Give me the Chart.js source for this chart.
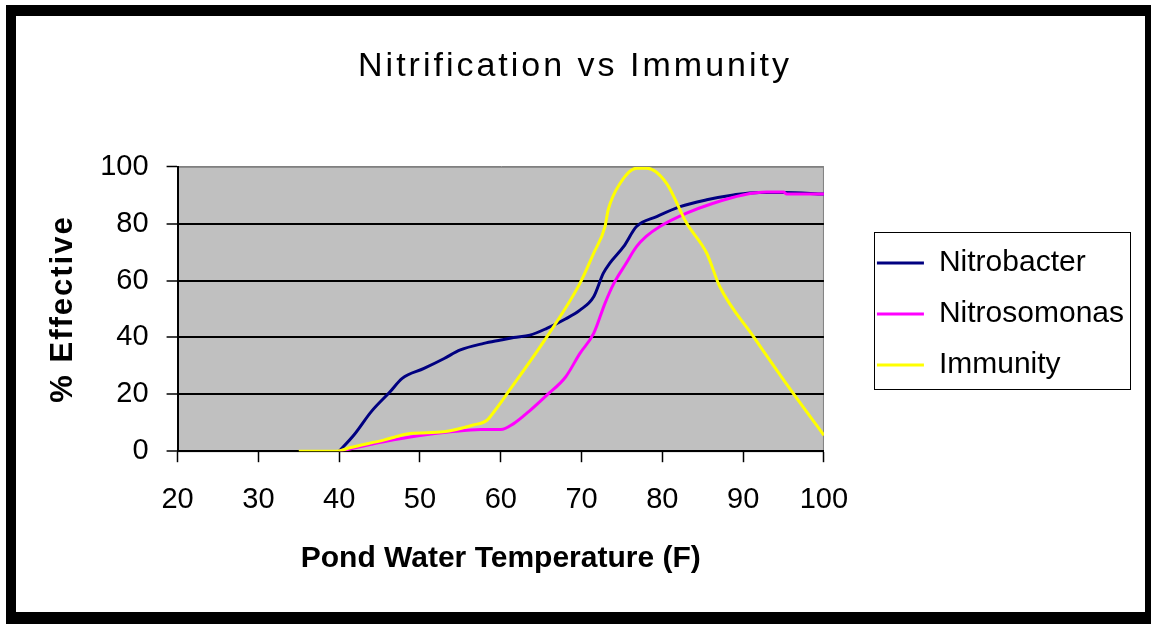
<!DOCTYPE html>
<html>
<head>
<meta charset="utf-8">
<title>Nitrification vs Immunity</title>
<script src="https://cdn.jsdelivr.net/npm/chart.js@4.4.1/dist/chart.umd.min.js"></script>
<style>
  html, body { margin: 0; padding: 0; background: #fff; }
  #frame {
    position: absolute;
    left: 6px;
    top: 5px;
    width: 1129px;
    height: 596px;
    border-style: solid;
    border-color: #000;
    border-width: 11px 6px 12px 10px;
  }
</style>
</head>
<body>
<div id="frame"><canvas id="chart"></canvas></div>
<script>
// values
const xTicks = [20, 30, 40, 50, 60, 70, 80, 90, 100];
const yTicks = [0, 20, 40, 60, 80, 100];

const nitrobacterTemp = [40, 41.8, 44, 46.3, 47.8, 50.5, 53, 55, 57.9, 60, 61.6, 63.6, 65.7, 68, 69.8, 71.5, 72.7, 73.5, 75.2, 76.8, 79.3, 82.2, 85.5, 88.8, 92, 95, 100];
const nitrobacterPct = [0, 5.6, 14, 20.9, 25.6, 29.1, 32.6, 35.6, 37.9, 39.1, 40, 40.8, 43.2, 46.5, 49.6, 54.3, 62.6, 66.1, 71.9, 79, 82.5, 86, 88.4, 90.1, 91, 91, 90.4];

const nitrosomonasTemp = [40, 45.5, 50, 53.8, 57.5, 60, 61.6, 63.5, 65.7, 68, 69.8, 71.5, 72.9, 74, 75.5, 76.8, 78, 79.7, 83, 86.3, 90, 92.9, 95, 95.4, 100];
const nitrosomonasPct = [0, 3.3, 5.5, 6.8, 7.6, 7.6, 9.7, 14, 19.7, 26, 34.4, 41.4, 52, 59, 66, 71.9, 75.5, 79, 83.7, 87.2, 90.1, 91.1, 91.1, 90.4, 90.4];

const immunityTemp = [35, 39.7, 41.3, 45.5, 48.8, 52.9, 56.6, 58.3, 59.3, 60.8, 65.7, 69.8, 71.5, 72.9, 73.3, 74.8, 76.8, 78.1, 80.5, 83, 85.5, 87.1, 91.3, 96.2, 100];
const immunityPct = [0, 0, 1.2, 3.9, 6.2, 6.8, 9.2, 10.9, 14.4, 20.3, 40.2, 59, 69.6, 79, 84.9, 94.3, 99.5, 99.5, 94.3, 80.2, 69.6, 57.9, 40.2, 20.3, 5.6];

function points(xs, ys) {
    return xs.map((x, i) => ({ x: x, y: ys[i] }));
}

Chart.defaults.font.family = "'Liberation Sans', Arial, sans-serif";
Chart.defaults.color = '#000';

// grey plot area with a thin grey edge on top and right
const plotBg = {
    id: 'plotBg',
    beforeDraw(chart) {
        const { ctx, chartArea: a } = chart;
        ctx.save();
        ctx.fillStyle = '#c0c0c0';
        ctx.fillRect(a.left, a.top, a.width, a.height);
        ctx.strokeStyle = '#808080';
        ctx.lineWidth = 1;
        ctx.strokeRect(a.left + 0.5, a.top + 0.5, a.width - 1, a.height);
        ctx.restore();
    }
};

// wider letter spacing on the chart title and the y title, like the original
function spaced(obj, fn, gap) {
    if (!obj || obj['_sp_' + fn]) return;
    const orig = obj[fn];
    obj['_sp_' + fn] = true;
    obj[fn] = function () {
        const ctx = this.ctx;
        ctx.save();
        ctx.letterSpacing = gap;
        orig.apply(this, arguments);
        ctx.restore();
    };
}
const textSpacing = {
    id: 'textSpacing',
    beforeDraw(chart) {
        spaced(chart.titleBlock, 'draw', '3px');
        spaced(chart.scales.y, 'drawTitle', '2px');
    }
};

// box round the legend
const legendFrame = {
    id: 'legendFrame',
    afterDraw(chart) {
        const boxes = chart.legend && chart.legend.legendHitBoxes;
        if (!boxes || !boxes.length) return;
        const first = boxes[0];
        const last = boxes[boxes.length - 1];
        const right = Math.max(...boxes.map(b => b.left + b.width));
        const ctx = chart.ctx;
        ctx.save();
        ctx.strokeStyle = '#000';
        ctx.lineWidth = 1;
        ctx.strokeRect(Math.round(first.left - 3) + 0.5, Math.round(first.top - 16) + 0.5,
            Math.round(right + 6 - (first.left - 3)), Math.round(last.top + last.height + 9 - (first.top - 16)));
        ctx.restore();
    }
};

new Chart(document.getElementById('chart'), {
    type: 'line',
    data: {
        datasets: [{
            label: 'Nitrobacter',
            data: points(nitrobacterTemp, nitrobacterPct),
            borderColor: '#000080',
            backgroundColor: '#000080',
            borderWidth: 3,
            pointRadius: 0,
            cubicInterpolationMode: 'monotone',
            order: 3
        }, {
            label: 'Nitrosomonas',
            data: points(nitrosomonasTemp, nitrosomonasPct),
            borderColor: '#ff00ff',
            backgroundColor: '#ff00ff',
            borderWidth: 3,
            pointRadius: 0,
            cubicInterpolationMode: 'monotone',
            order: 2
        }, {
            label: 'Immunity',
            data: points(immunityTemp, immunityPct),
            borderColor: '#ffff00',
            backgroundColor: '#ffff00',
            borderWidth: 3,
            pointRadius: 0,
            cubicInterpolationMode: 'monotone',
            order: 1
        }]
    },
    options: {
        responsive: true,
        maintainAspectRatio: false,
        animation: false,
        layout: { padding: { left: 0, right: 11, top: 0, bottom: 0 } },
        plugins: {
            title: {
                display: true,
                text: 'Nitrification vs Immunity',
                font: { size: 34, weight: 'normal' },
                color: '#000',
                padding: { top: 30, bottom: 80 }
            },
            legend: {
                position: 'right',
                maxWidth: 330,
                labels: {
                    usePointStyle: true,
                    pointStyle: 'line',
                    pointStyleWidth: 47,
                    font: { size: 30 },
                    color: '#000',
                    padding: 21,
                    sort: (a, b) => a.datasetIndex - b.datasetIndex
                }
            },
            tooltip: { enabled: false }
        },
        scales: {
            x: {
                type: 'linear',
                min: 20,
                max: 100,
                afterBuildTicks: s => { s.ticks = xTicks.map(v => ({ value: v })); },
                grid: { drawOnChartArea: false, tickLength: 11, tickColor: '#000', tickWidth: 1.5 },
                border: { color: '#000', width: 2 },
                ticks: { font: { size: 29 }, color: '#000', padding: 20, maxRotation: 0, autoSkip: false },
                title: {
                    display: true,
                    text: 'Pond Water Temperature (F)',
                    font: { size: 30, weight: 'bold' },
                    color: '#000',
                    padding: { top: 4, bottom: 35 }
                }
            },
            y: {
                type: 'linear',
                min: 0,
                max: 100,
                afterBuildTicks: s => { s.ticks = yTicks.map(v => ({ value: v })); },
                grid: {
                    color: c => (c.tick && c.tick.value === 100 ? '#808080' : '#000'),
                    lineWidth: c => (c.tick && c.tick.value === 100 ? 1 : 2),
                    tickLength: 11,
                    tickColor: '#000',
                    tickWidth: 1.5
                },
                border: { color: '#000', width: 2 },
                ticks: { font: { size: 29 }, color: '#000', padding: 18 },
                title: {
                    display: true,
                    text: '% Effective',
                    font: { size: 31, weight: 'bold' },
                    color: '#000',
                    padding: { top: 29, bottom: 0 }
                }
            },
            // empty right axis, only keeps the legend clear of the plot
            yPad: {
                type: 'linear',
                position: 'right',
                grid: { display: false },
                border: { display: false },
                ticks: { display: false },
                afterFit: s => { s.width = 32; }
            }
        }
    },
    plugins: [plotBg, textSpacing, legendFrame]
});
</script>
</body>
</html>
